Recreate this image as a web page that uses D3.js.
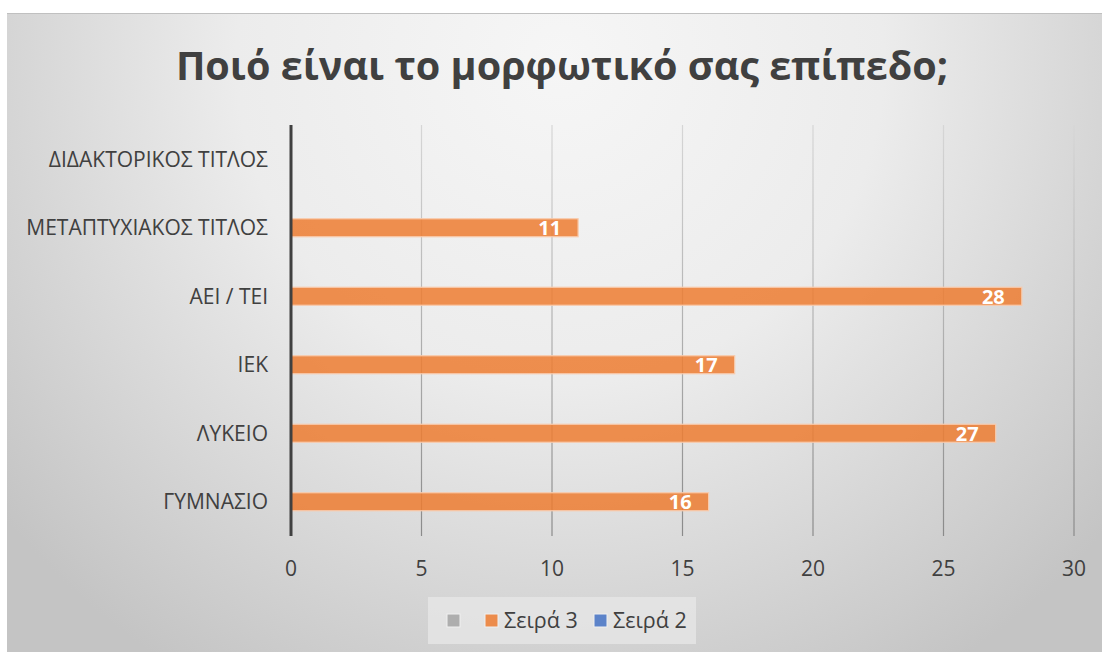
<!DOCTYPE html>
<html><head><meta charset="utf-8">
<script src="https://cdn.jsdelivr.net/npm/d3@7"></script>
<style>body{margin:0;background:#fff}svg{display:block}</style>
</head><body>
<svg id="c" width="1102" height="652"></svg>
<script>
const categories = ["ΓΥΜΝΑΣΙΟ","ΛΥΚΕΙΟ","ΙΕΚ","ΑΕΙ / ΤΕΙ","ΜΕΤΑΠΤΥΧΙΑΚΟΣ ΤΙΤΛΟΣ","ΔΙΔΑΚΤΟΡΙΚΟΣ ΤΙΤΛΟΣ"];
const seriesNames = ["", "Σειρά 3", "Σειρά 2"];
const seriesColors = ["#a5a5a5", "#ed7d31", "#4472c4"];
const series3 = [16, 27, 17, 28, 11, null];
const xTicks = [0, 5, 10, 15, 20, 25, 30];
const title = "Ποιό είναι το μορφωτικό σας επίπεδο;";

const svg = d3.select("#c");
const defs = svg.append("defs");
const rg = defs.append("radialGradient").attr("id","bg").attr("gradientUnits","userSpaceOnUse")
  .attr("cx",560).attr("cy",60).attr("r",720);
rg.append("stop").attr("offset","0").attr("stop-color","#f6f6f6");
rg.append("stop").attr("offset","0.45").attr("stop-color","#ececec");
rg.append("stop").attr("offset","1").attr("stop-color","#c4c4c4");
const lg = defs.append("linearGradient").attr("id","grid").attr("gradientUnits","userSpaceOnUse")
  .attr("x1",0).attr("y1",125).attr("x2",0).attr("y2",536);
lg.append("stop").attr("offset","0").attr("stop-color","#d6d6d6");
lg.append("stop").attr("offset","1").attr("stop-color","#8a8a8a");

svg.append("rect").attr("x",7).attr("y",13).attr("width",1095).attr("height",639).attr("fill","url(#bg)");
svg.append("line").attr("x1",7).attr("x2",1102).attr("y1",13.5).attr("y2",13.5).attr("stroke","#c0c0c0");

const font = "'Open Sans', 'Noto Sans', sans-serif";
svg.append("text").attr("x",562).attr("y",80).attr("text-anchor","middle")
  .attr("font-family",font).attr("font-weight","bold").attr("font-size",39.6).attr("fill","#404040").text(title);

const x = d3.scaleLinear().domain([0,30]).range([291,1074]);
const y = d3.scaleBand().domain(categories.slice().reverse()).range([125,536]);

const g = svg.append("g");
g.selectAll(".gl").data(xTicks.slice(1)).join("line")
  .attr("x1",d=>x(d)).attr("x2",d=>x(d)).attr("y1",125).attr("y2",536)
  .attr("stroke","url(#grid)").attr("stroke-width",1.2);

const barH = 18;
const data = categories.map((c,i)=>({c, v: series3[i]})).filter(d=>d.v!=null);
g.selectAll(".bar").data(data).join("rect")
  .attr("x",x(0)).attr("y",d=>y(d.c)+y.bandwidth()/2-barH/2)
  .attr("width",d=>x(d.v)-x(0)).attr("height",barH)
  .attr("fill","#ed7d31").attr("fill-opacity",0.85)
  .attr("stroke","#f8cbad").attr("stroke-width",1.2);
g.selectAll(".lbl").data(data).join("text")
  .attr("x",d=>x(d.v)-17).attr("y",d=>y(d.c)+y.bandwidth()/2+7.5)
  .attr("text-anchor","end").attr("font-family",font).attr("font-weight","bold")
  .attr("font-size",20).attr("fill","#fff").text(d=>d.v);

g.append("line").attr("x1",x(0)).attr("x2",x(0)).attr("y1",125).attr("y2",536)
  .attr("stroke","#404040").attr("stroke-width",3);

g.selectAll(".cat").data(categories).join("text")
  .attr("x",268).attr("y",d=>y(d)+y.bandwidth()/2+7.5)
  .attr("text-anchor","end").attr("font-family",font).attr("font-size",21).attr("fill","#404040").text(d=>d);

g.selectAll(".xt").data(xTicks).join("text")
  .attr("x",d=>x(d)).attr("y",576).attr("text-anchor","middle")
  .attr("font-family",font).attr("font-size",21).attr("fill","#404040").text(d=>d);

svg.append("rect").attr("x",428).attr("y",597).attr("width",268).attr("height",47).attr("fill","#e6e6e6").attr("fill-opacity",0.8);
const legX = [447, 485, 594];
seriesNames.forEach((n,i)=>{
  svg.append("rect").attr("x",legX[i]).attr("y",614).attr("width",13).attr("height",13)
    .attr("fill",seriesColors[i]).attr("fill-opacity",0.85).attr("stroke","#f0f0f0").attr("stroke-width",1);
  if(n) svg.append("text").attr("x",legX[i]+19).attr("y",628).attr("font-family",font)
    .attr("font-size",21.5).attr("fill","#404040").text(n);
});
</script>
</body></html>
